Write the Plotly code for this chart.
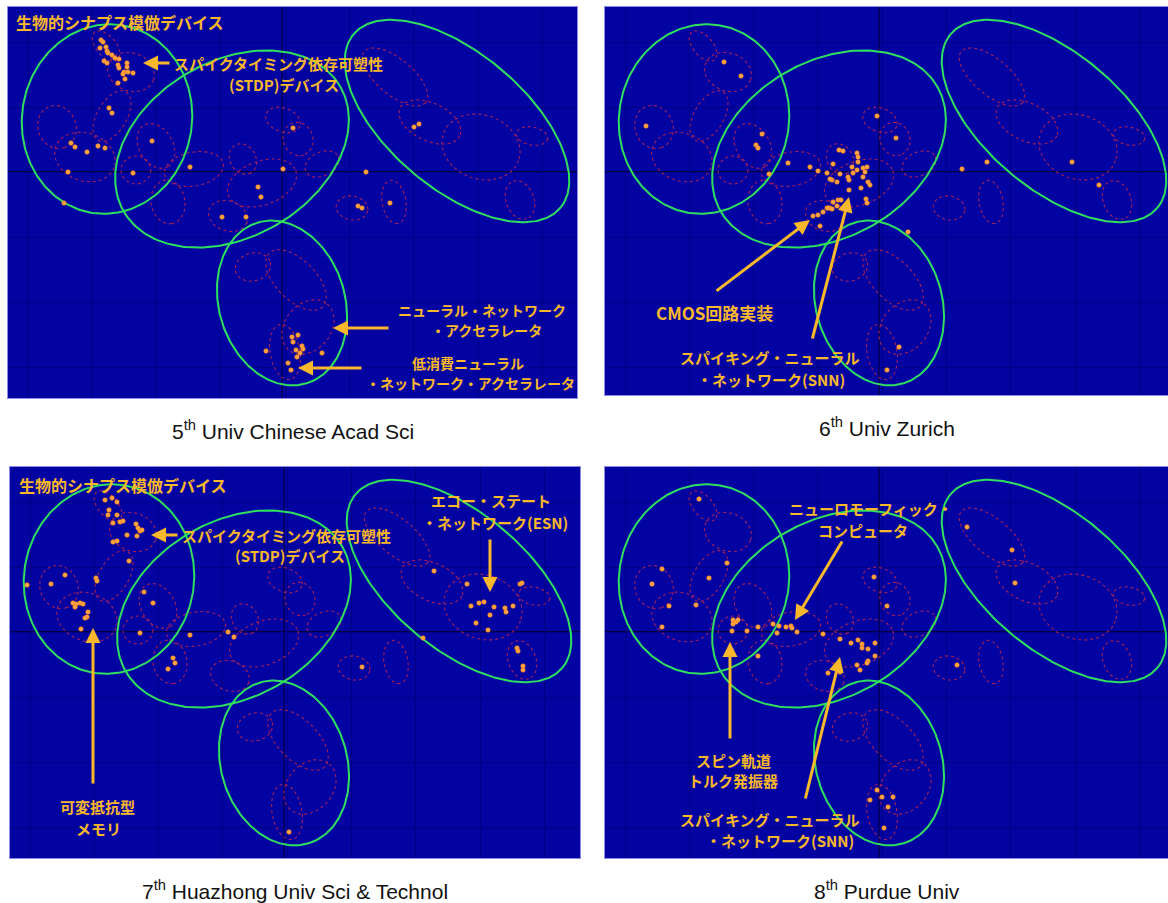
import numpy as np
import plotly.graph_objects as go

FIG_W, FIG_H = 1168, 903
# panel boxes in pixels: left, top, right, bottom
PANELS = [(8, 7, 577, 398), (605, 7, 1168, 395), (10, 467, 580, 858), (605, 467, 1168, 858)]

# ---------------- data ----------------
titles = ["5<sup>th</sup> Univ Chinese Acad Sci", "6<sup>th</sup> Univ Zurich",
          "7<sup>th</sup> Huazhong Univ Sci &amp; Technol", "8<sup>th</sup> Purdue Univ"]

# large cluster ellipses (panel-relative coords)
green_cx = [99, 224, 449, 274]
green_cy = [112, 142, 114, 296]
green_a = [95, 125, 135, 84]
green_b = [85, 88, 68, 63]
green_ang = [-81, -30, 40, 73]

# small topic ellipses
red_cx = [98, 123, 104, 49, 77, 148, 128, 186, 235, 254, 275, 290, 314, 160, 220, 344, 386,
          387, 422, 473, 524, 512, 245, 288, 300, 277]
red_cy = [39, 65, 109, 120, 150, 139, 163, 162, 152, 176, 113, 132, 157, 195, 209, 201, 195,
          70, 115, 140, 129, 193, 260, 273, 320, 345]
red_a = [18, 24, 28, 22, 31, 24, 15, 30, 16, 36, 18, 17, 18, 22, 20, 16, 22,
         40, 33, 40, 16, 20, 18, 38, 30, 28]
red_b = [10, 19, 15, 19, 24, 17, 14, 17, 13, 22, 12, 15, 12, 17, 15, 12, 12,
         18, 19, 32, 9, 14, 14, 20, 23, 15]
red_ang = [50, 20, -60, 70, 20, 60, 0, -10, 60, -20, 20, 70, -25, 80, 20, 10, 80,
           40, 25, 20, 10, 70, -15, 45, -50, 80]

# documents (dots) per panel
p1_x = [93, 95, 92, 98, 99, 100, 104, 107, 111, 96, 99, 110, 111, 119, 119, 116, 120, 125, 115, 117, 110,
        101, 104, 63, 67, 79, 90, 97, 60, 56, 144, 125, 182, 250, 253, 275, 285, 214, 238, 406, 411, 358,
        350, 354, 382, 258, 284, 290, 285, 294, 295, 288, 292, 289, 314, 280, 283]
p1_y = [33, 35, 41, 40, 44, 46, 48, 51, 52, 54, 56, 58, 61, 56, 60, 65, 65, 66, 67, 72, 76,
        101, 106, 136, 140, 145, 139, 141, 165, 196, 134, 166, 160, 180, 190, 162, 121, 210, 210, 120, 117, 165,
        199, 201, 196, 344, 330, 328, 335, 339, 342, 343, 346, 350, 346, 356, 363]

p2_x = [119, 136, 41, 157, 151, 153, 183, 164, 205, 213, 222, 228, 234, 238, 252, 253, 253, 247, 248, 252,
        258, 260, 262, 258, 243, 244, 235, 232, 227, 225, 263, 265, 256, 244, 233, 236, 228, 222, 218, 225,
        261, 262, 272, 291, 213, 208, 215, 223, 227, 232, 357, 382, 467, 494, 303, 294, 282]
p2_y = [55, 69, 119, 127, 138, 141, 156, 167, 160, 164, 166, 157, 143, 144, 146, 150, 155, 160, 166, 163,
        161, 165, 160, 170, 170, 173, 167, 175, 173, 172, 175, 178, 181, 183, 193, 193, 195, 201, 205, 201,
        192, 196, 109, 131, 208, 209, 219, 201, 202, 199, 162, 155, 155, 178, 225, 340, 363]

p3_x = [95, 102, 107, 99, 98, 107, 103, 110, 113, 126, 128, 130, 132, 117, 127, 103, 107, 119, 86, 87, 55,
        41, 17, 63, 66, 70, 73, 65, 78, 77, 75, 71, 134, 143, 130, 180, 163, 165, 158, 218, 224,
        424, 457, 461, 469, 474, 484, 495, 496, 503, 480, 466, 478, 413, 510, 512, 507, 508, 513, 513,
        352, 279]
p3_y = [33, 31, 35, 43, 48, 48, 56, 55, 54, 57, 61, 64, 63, 68, 69, 75, 74, 94, 111, 114, 108,
        117, 118, 136, 137, 136, 137, 140, 145, 150, 151, 162, 125, 136, 166, 168, 191, 196, 202, 165, 170,
        104, 117, 139, 136, 135, 140, 141, 145, 139, 148, 156, 163, 171, 117, 116, 181, 184, 199, 203,
        200, 365]

p4_x = [94, 122, 104, 57, 47, 64, 91, 57, 128, 131, 133, 128, 127, 142, 153, 168, 174, 181, 186, 187, 192,
        172, 218, 235, 246, 253, 257, 257, 263, 270, 270, 263, 262, 252, 153, 269, 282, 223, 362, 407, 410,
        352, 272, 277, 288, 265, 283, 279, 235, 255]
p4_y = [32, 96, 111, 102, 117, 139, 138, 160, 153, 155, 153, 157, 164, 164, 160, 157, 159, 160, 159, 161, 165,
        166, 167, 172, 176, 173, 177, 181, 182, 176, 189, 194, 196, 198, 189, 110, 139, 206, 60, 83, 116,
        198, 323, 330, 330, 333, 340, 361, 205, 203]

dots_x = [p1_x, p2_x, p3_x, p4_x]
dots_y = [p1_y, p2_y, p3_y, p4_y]

# labels
label_panel = [0, 0, 0, 0, 0, 0, 0,
               1, 1, 1,
               2, 2, 2, 2, 2, 2, 2,
               3, 3, 3, 3, 3, 3]
label_text = ["生物的シナプス模倣デバイス", "スパイクタイミング依存可塑性", "(STDP)デバイス",
              "ニューラル・ネットワーク", "・アクセラレータ", "低消費ニューラル", "・ネットワーク・アクセラレータ",
              "CMOS回路実装", "スパイキング・ニューラル", "・ネットワーク(SNN)",
              "生物的シナプス模倣デバイス", "スパイクタイミング依存可塑性", "(STDP)デバイス",
              "エコー・ステート", "・ネットワーク(ESN)", "可変抵抗型", "メモリ",
              "ニューロモーフィック・", "コンピュータ", "スピン軌道", "トルク発振器",
              "スパイキング・ニューラル", "・ネットワーク(SNN)"]
label_x = [6, 164, 276, 474, 478, 460, 462,
           109, 165, 166,
           7, 170, 280, 481, 485, 87, 88,
           266, 258, 128, 128, 165, 175]
label_y = [15, 56, 77, 303, 323, 356, 376,
           305, 350, 372,
           18, 68, 88, 33, 55, 339, 361,
           41, 63, 293, 313, 352, 373]
label_size = [16, 15, 15, 14, 14, 14, 14,
              17, 15, 15,
              16, 15, 15, 15, 15, 15, 15,
              15, 15, 15, 15, 15, 15]
label_anchor = ["left", "left", "center", "center", "center", "center", "center",
                "center", "center", "center",
                "left", "left", "center", "center", "center", "center", "center",
                "center", "center", "center", "center", "center", "center"]

# arrows: panel, head x/y, tail x/y
arrow_panel = [0, 0, 0, 1, 1, 2, 2, 2, 3, 3, 3]
arrow_hx = [135, 325, 290, 205, 244, 141, 480, 83, 190, 125, 235]
arrow_hy = [56, 321, 361, 213, 190, 68, 125, 161, 153, 175, 190]
arrow_tx = [163, 382, 355, 110, 207, 169, 480, 83, 238, 125, 200]
arrow_ty = [56, 321, 361, 285, 333, 68, 71, 318, 73, 273, 333]

# ---------------- styling ----------------
BG = "#0303a2"
GRID = "#000084"
GREEN = "#2fe060"
RED = "#a6215c"
DOT = "#ffa845"
TXT = "#f9b72c"


def ellipse(cx, cy, a, b, ang, n=120):
    t = np.linspace(0, 2 * np.pi, n)
    th = np.deg2rad(ang)
    x = cx + a * np.cos(t) * np.cos(th) - b * np.sin(t) * np.sin(th)
    y = cy + a * np.cos(t) * np.sin(th) + b * np.sin(t) * np.cos(th)
    return list(x), list(y)


fig = go.Figure()
layout = dict(width=FIG_W, height=FIG_H, margin=dict(l=0, r=0, t=0, b=0),
              paper_bgcolor="white", plot_bgcolor=BG, showlegend=False)
shapes = []
annotations = []

for i, (l, t, r, b) in enumerate(PANELS):
    k = "" if i == 0 else str(i + 1)
    xa, ya = "x" + k, "y" + k
    pw, ph = r - l, b - t
    layout["xaxis" + k] = dict(domain=[l / FIG_W, r / FIG_W], range=[0, pw], anchor=ya,
                               showticklabels=False, zeroline=False, showgrid=True,
                               gridcolor=GRID, gridwidth=1.2, tick0=20, dtick=64.3,
                               showline=True, mirror=True, linecolor="#8c8ce8", linewidth=1,
                               fixedrange=True, ticks="")
    layout["yaxis" + k] = dict(domain=[1 - b / FIG_H, 1 - t / FIG_H], range=[ph, 0], anchor=xa,
                               showticklabels=False, zeroline=False, showgrid=True,
                               gridcolor=GRID, gridwidth=1.2, tick0=35, dtick=65,
                               showline=True, mirror=True, linecolor="#8c8ce8", linewidth=1,
                               fixedrange=True, ticks="")
    shapes.append(dict(type="line", xref=xa, yref=ya, x0=0, x1=pw, y0=165, y1=165,
                       line=dict(color="#000020", width=1.6), layer="below"))
    shapes.append(dict(type="line", xref=xa, yref=ya, x0=274, x1=274, y0=0, y1=ph,
                       line=dict(color="#000050", width=1.4), layer="below"))

    rx, ry = [], []
    for cx, cy, a, bb, ang in zip(red_cx, red_cy, red_a, red_b, red_ang):
        ex, ey = ellipse(cx, cy, a, bb, ang)
        rx += ex + [None]
        ry += ey + [None]
    fig.add_trace(go.Scatter(x=rx, y=ry, mode="lines", xaxis=xa, yaxis=ya,
                             line=dict(color=RED, width=1.1, dash="dot"), hoverinfo="skip"))
    gx, gy = [], []
    for cx, cy, a, bb, ang in zip(green_cx, green_cy, green_a, green_b, green_ang):
        ex, ey = ellipse(cx, cy, a, bb, ang, 240)
        gx += ex + [None]
        gy += ey + [None]
    fig.add_trace(go.Scatter(x=gx, y=gy, mode="lines", xaxis=xa, yaxis=ya,
                             line=dict(color=GREEN, width=2), hoverinfo="skip"))
    fig.add_trace(go.Scatter(x=dots_x[i], y=dots_y[i], mode="markers", xaxis=xa, yaxis=ya,
                             marker=dict(color=DOT, size=4.5, line=dict(color="#ff7a1a", width=0.6))))

    annotations.append(dict(text=titles[i], xref="paper", yref="paper",
                            x=(l + r) / 2 / FIG_W, y=1 - (b + 32) / FIG_H,
                            showarrow=False, xanchor="center", yanchor="middle",
                            font=dict(family="Liberation Sans, Arial", size=21, color="#111111")))

for p, txt, x, y, s, anc in zip(label_panel, label_text, label_x, label_y, label_size, label_anchor):
    k = "" if p == 0 else str(p + 1)
    annotations.append(dict(text="<b>" + txt + "</b>", xref="x" + k, yref="y" + k, x=x, y=y,
                            showarrow=False, xanchor=anc, yanchor="middle",
                            font=dict(family="Noto Sans CJK JP", size=s, color=TXT)))

for p, hx, hy, tx, ty in zip(arrow_panel, arrow_hx, arrow_hy, arrow_tx, arrow_ty):
    k = "" if p == 0 else str(p + 1)
    annotations.append(dict(text="", xref="x" + k, yref="y" + k, axref="x" + k, ayref="y" + k,
                            x=hx, y=hy, ax=tx, ay=ty, showarrow=True, arrowhead=2,
                            arrowsize=1, arrowwidth=3, arrowcolor=TXT))

layout["shapes"] = shapes
layout["annotations"] = annotations
fig.update_layout(**layout)
fig.write_html("out.html", config={"displayModeBar": False},
               post_script="document.body.style.margin='0px';document.body.style.overflow='hidden';")
